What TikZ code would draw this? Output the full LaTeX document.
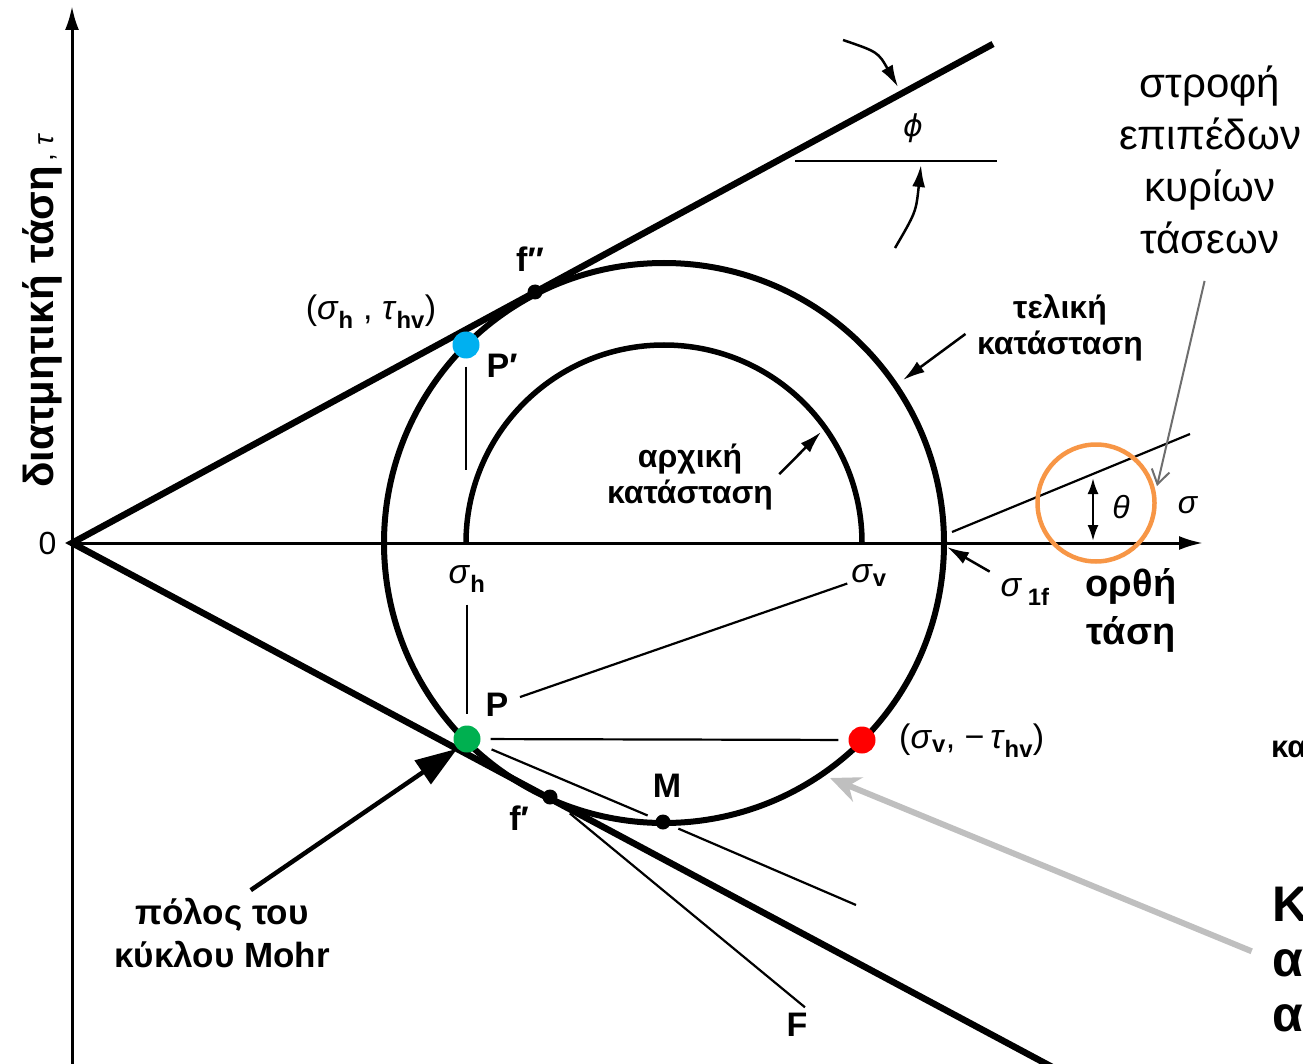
\documentclass[tikz,border=0pt]{standalone}
\usepackage{fontspec}
\setmainfont{Liberation Sans}
\newfontfamily\phifont{DejaVu Sans}
\usetikzlibrary{arrows.meta, positioning, calc}

\definecolor{mohrblue}{RGB}{0,176,240}
\definecolor{mohrgreen}{RGB}{0,176,80}
\definecolor{mohrred}{RGB}{255,0,0}
\definecolor{mohrorange}{RGB}{247,150,70}
\definecolor{lightgrey}{RGB}{191,191,191}
\definecolor{darkgrey}{RGB}{110,110,110}

\newcommand{\subsc}[1]{\textsubscript{\bfseries #1}}
\newcommand{\fsz}[2]{\fontsize{#1}{#2}\selectfont}

\begin{document}
\begin{tikzpicture}[
  x=1pt, y=-1pt,
  axis/.style={line width=3pt, -{Latex[length=24pt, width=14pt]}},
  envelope/.style={line width=6.5pt},
  mohr/.style={line width=6pt},
  guide/.style={line width=2.2pt},
  arrow/.style={line width=2.5pt, -{Latex[length=22pt, width=13pt]}},
  bdot/.style={circle, fill=black, inner sep=0pt, minimum size=15pt},
  cdot/.style={circle, inner sep=0pt, minimum size=27pt},
  lbl/.style={font=\bfseries\fsz{34}{40}, inner sep=2pt},
  sym/.style={font=\fsz{34}{40}, inner sep=2pt},
  note/.style={font=\bfseries\fsz{32}{36}, align=center}
]

% Frame
\useasboundingbox (0,0) rectangle (1303,1064);
\clip (0,0) rectangle (1303,1064);

% Axes
\coordinate (O) at (72,543);
\coordinate (ybot) at (72,1070);
\coordinate (ytop) at (72,6);
\coordinate (xend) at (1203,543);
\draw[axis] (ybot) -- (ytop);
\draw[axis] (O) -- (xend);
\node[font=\fsz{32}{36}, left=12pt of O] (zero) {0};
\node[rotate=90, anchor=base west, inner sep=0pt, font=\bfseries\fsz{42}{48}] (ylab) at (53,488)
  {διατμητική τάση{\mdseries\fsz{28}{30}\,, \textit{τ}}};

% Failure envelopes
\coordinate (U) at (993,44);
\coordinate (L) at (1054,1068);
\draw[envelope] (U) -- (O) -- (L);

% Mohr circles
\coordinate (C) at (664,543);
\coordinate (sh0) at (466,543);
\draw[mohr] (C) circle[radius=280pt];
\draw[mohr, line width=5.5pt] (sh0) arc[start angle=180, end angle=0, radius=198pt];

% Points
\node[bdot] (fpp) at (535,292) {};
\node[bdot] (fp) at (550,797) {};
\node[bdot] (M) at (663,822) {};
\node[cdot, fill=mohrblue] (Pp) at (466,345) {};
\node[cdot, fill=mohrgreen] (P) at (467,739) {};
\node[cdot, fill=mohrred] (Pv) at (862,740) {};

% Labels
\node[sym] (Ppc) at (371,312) {(\textit{σ}\subsc{h} , \textit{τ}\subsc{hv})};
\node[lbl] (Ppl) at (502,366) {P′};
\node[lbl] (fppl) at (530,259) {f″};
\node[lbl] (Pl) at (497,705) {P};
\node[lbl] (Ml) at (667,786) {M};
\node[lbl] (fpl) at (519,818) {f′};
\node[lbl] (Fl) at (797,1025) {F};
\node[sym] (shl) at (467,579) {\textit{σ}\subsc{h}};
\node[sym] (svl) at (869,576) {\textit{σ}\subsc{v}};
\node[sym, anchor=west] (Pvl) at (897,741) {(\textit{σ}\subsc{v}, −\,\textit{τ}\subsc{hv})};
\node[sym] (s1f) at (1025,592) {\textit{σ}\,\subsc{1f}};

% Construction lines
\coordinate (Pp0) at (466,470);
\coordinate (Mend) at (856,905);
\draw[guide, shorten <=8pt] (Pp) -- (Pp0);
\draw[guide, shorten <=10pt, shorten >=11pt] (P |- shl.south) -- (P);
\draw[guide, shorten <=10pt, shorten >=2pt] (Pl) -- (svl);
\draw[guide, shorten <=10pt, shorten >=10pt] (P) -- (Pv);
\draw[guide, shorten <=13pt, shorten >=9pt] (P) -- (M);
\draw[guide, shorten <=9pt] (M) -- (Mend);
\draw[guide, shorten <=18pt, shorten >=6pt] (fp) -- (Fl.north east);

% Principal plane rotation
\coordinate (th1) at (952,532);
\coordinate (th2) at (1190,434);
\coordinate (tha) at (1093,541);
\coordinate (thb) at (1093,478);
\coordinate (thc) at (1096,503);
\draw[guide] (th1) -- (th2);
\draw[line width=2.5pt, {Latex[length=16pt, width=11pt]}-{Latex[length=16pt, width=11pt]}] (tha) -- (thb);
\node[font=\fsz{32}{36}] (thl) at (1121,507) {\textit{θ}};
\node[font=\fsz{32}{36}] (sigl) at (1188,505) {\textit{σ}};
\draw[line width=4.5pt, mohrorange] (thc) circle[radius=58.5pt];
\coordinate (s1tip) at (947,547);
\draw[arrow, shorten <=10pt] (s1f) -- (s1tip);

% Friction angle
\coordinate (ph1) at (795,161);
\coordinate (ph2) at (997,161);
\coordinate (pa1) at (843,40);
\coordinate (pa2) at (898,87);
\coordinate (pb1) at (895,248);
\coordinate (pb2) at (921,165);
\draw[guide, line width=2.6pt] (ph1) -- (ph2);
\node[font=\phifont\itshape\fsz{30}{34}] (phl) at (913,128) {ϕ};
\draw[arrow] (pa1) .. controls (878,52) .. (pa2);
\draw[arrow] (pb1) .. controls (916,212) .. (pb2);

% Notes
\node[note] (tel) at (1060,328) {τελική\\κατάσταση};
\node[note] (arx) at (690,477) {αρχική\\κατάσταση};
\coordinate (teltip) at (903,380);
\coordinate (arxtip) at (821,432);
\draw[arrow, shorten <=10pt] (tel.west) -- (teltip);
\draw[arrow, shorten <=4pt] (arx.east) -- (arxtip);

\node[font=\bfseries\fsz{38}{48}, align=center] (orth) at (1131,610) {ορθή\\τάση};

\node[font=\fsz{42}{52}, align=center] (rot) at (1210,160) {στροφή\\επιπέδων\\κυρίων\\τάσεων};
\coordinate (rottip) at (1157,486);
\draw[line width=2pt, darkgrey, -{Straight Barb[length=14pt, width=18pt]}, shorten <=24pt] (rot.south) -- (rottip);

\node[font=\bfseries\fsz{35}{43}, align=center] (pole) at (222,933) {πόλος του\\κύκλου Mohr};
\draw[line width=4.5pt, -{Triangle[length=42pt, width=28pt]}, shorten <=8pt] (pole.60) -- (P.south west);

% Cut-off text at the right edge
\node[font=\bfseries\fsz{31}{34}, anchor=base west, inner sep=0pt] (ka) at (1271,757) {κα};
\node[font=\bfseries\fsz{50}{55}, anchor=north west, inner sep=0pt, align=left] (kbig) at (1272,887) {Κ\\α\\α};
\coordinate (gtip) at (830,778);
\draw[line width=6pt, lightgrey, -{Stealth[length=30pt, width=26pt]}, shorten <=22pt] (kbig.west) -- (gtip);

\end{tikzpicture}
\end{document}
